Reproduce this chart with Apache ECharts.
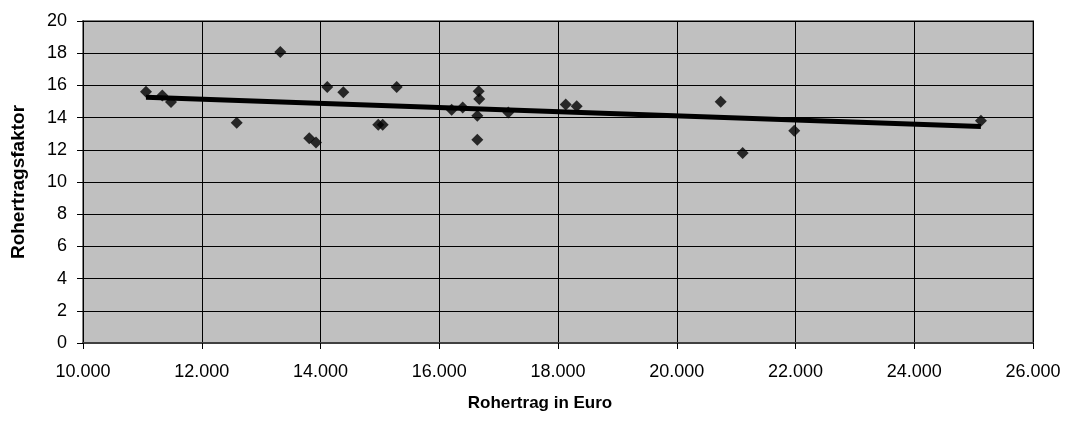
<!DOCTYPE html>
<html>
<head>
<meta charset="utf-8">
<script src="https://cdn.jsdelivr.net/npm/echarts@6/dist/echarts.min.js"></script>
<style>html,body{margin:0;padding:0;background:#fff}#c{width:1083px;height:423px}</style>
</head>
<body>
<div id="c"></div>
<script>
var rohertrag = [11061, 11336, 11482, 12589, 13323, 13811, 13924, 14114, 14384, 14973, 15047, 15283, 16209, 16395, 16664, 16674, 16641, 16641, 17163, 18130, 18315, 20740, 21110, 21979, 25123];
var faktor    = [15.6, 15.38, 14.97, 13.68, 18.07, 12.71, 12.46, 15.9, 15.57, 13.56, 13.56, 15.9, 14.49, 14.63, 15.63, 15.16, 14.12, 12.63, 14.32, 14.82, 14.7, 14.99, 11.8, 13.19, 13.81];
var trendX = [11061, 25123];
var trendY = [15.27, 13.44];
var xTicks = [10000, 12000, 14000, 16000, 18000, 20000, 22000, 24000, 26000];
var yTicks = [0, 2, 4, 6, 8, 10, 12, 14, 16, 18, 20];

var pts = rohertrag.map(function (x, i) { return [x, faktor[i]]; });
var trend = trendX.map(function (x, i) { return [x, trendY[i]]; });

var font = 'Liberation Sans, Arial, sans-serif';
var chart = echarts.init(document.getElementById('c'));
chart.setOption({
  animation: false,
  grid: { left: 83, top: 21, right: 50, bottom: 80, show: true, backgroundColor: '#C0C0C0', borderColor: '#808080', borderWidth: 2 },
  xAxis: {
    type: 'value', min: xTicks[0], max: xTicks[xTicks.length - 1], interval: 2000,
    name: 'Rohertrag in Euro', nameLocation: 'middle', nameGap: 52,
    nameTextStyle: { fontFamily: font, fontSize: 17, fontWeight: 'bold', color: '#000', padding: [0, 36, 0, 0] },
    axisLine: { show: true, onZero: false, lineStyle: { color: '#404040', width: 2 } },
    axisTick: { show: true, length: 6, lineStyle: { color: '#000' } },
    axisLabel: { fontFamily: font, fontSize: 18, color: '#000', margin: 20,
      formatter: function (v) { return String(v).replace(/\B(?=(\d{3})+(?!\d))/g, '.'); } },
    splitLine: { show: true, lineStyle: { color: '#000', width: 1 } }
  },
  yAxis: {
    type: 'value', min: yTicks[0], max: yTicks[yTicks.length - 1], interval: 2,
    name: 'Rohertragsfaktor', nameLocation: 'middle', nameGap: 55,
    nameTextStyle: { fontFamily: font, fontSize: 19, fontWeight: 'bold', color: '#000' },
    axisLine: { show: true, lineStyle: { color: '#000', width: 1 } },
    axisTick: { show: true, length: 6, lineStyle: { color: '#000' } },
    axisLabel: { fontFamily: font, fontSize: 18, color: '#000', margin: 16 },
    splitLine: { show: true, lineStyle: { color: '#000', width: 1 } }
  },
  series: [
    { type: 'line', data: trend, symbol: 'none', lineStyle: { color: '#000', width: 5 }, z: 3 },
    { type: 'scatter', data: pts, symbol: 'diamond', symbolSize: 12, itemStyle: { color: '#000' }, z: 4 }
  ]
});
</script>
</body>
</html>
